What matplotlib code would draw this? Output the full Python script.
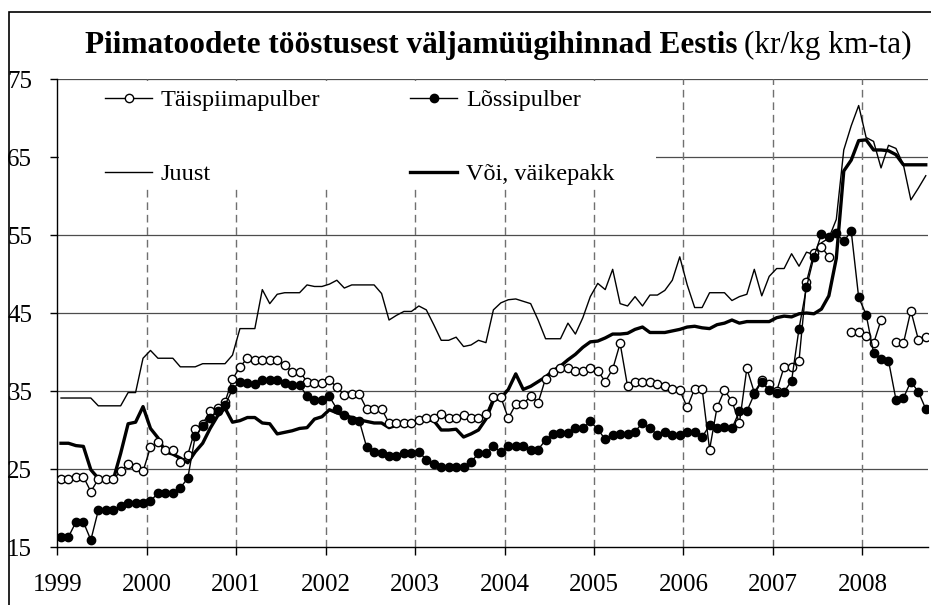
import numpy as np
import matplotlib
matplotlib.use("Agg")
import matplotlib.pyplot as plt
from matplotlib.patches import Rectangle

plt.rcParams['font.family'] = ['Liberation Serif', 'DejaVu Serif']

# monthly prices, Jan 1999 .. Sep 2008 (kr/kg)
years = [str(y) for y in range(1999, 2009)]

taispiim = [
    23.7, 23.7, 24.0, 24.0, 22.1, 23.7, 23.7, 23.7, 24.7, 25.6, 25.3, 24.7,
    27.8, 28.4, 27.4, 27.4, 25.9, 26.8, 30.1, 30.8, 32.4, 32.8, 33.6, 36.5,
    38.1, 39.2, 39.0, 39.0, 39.0, 39.0, 38.3, 37.5, 37.5, 36.2, 36.0, 36.0,
    36.4, 35.5, 34.5, 34.6, 34.6, 32.7, 32.7, 32.7, 30.9, 30.9, 30.9, 30.9,
    31.3, 31.6, 31.5, 32.1, 31.5, 31.5, 31.9, 31.5, 31.5, 32.0, 34.2, 34.2,
    31.5, 33.3, 33.3, 34.4, 33.5, 36.6, 37.4, 37.9, 37.9, 37.6, 37.6, 37.9,
    37.6, 36.2, 37.8, 41.1, 35.6, 36.1, 36.1, 36.1, 35.9, 35.6, 35.3, 35.1,
    32.9, 35.3, 35.3, 27.5, 32.9, 35.1, 33.7, 30.9, 37.9, 34.8, 36.4, 35.9,
    35.0, 38.1, 38.1, 38.9, 49.0, 52.7, 53.5, 52.2, np.nan, np.nan, 42.6, 42.6,
    42.1, 41.1, 44.1, np.nan, 41.3, 41.1, 45.3, 41.6, 41.9,
]

lossi = [
    16.3, 16.3, 18.2, 18.2, 15.9, 19.7, 19.7, 19.7, 20.3, 20.7, 20.7, 20.7,
    20.9, 21.9, 21.9, 21.9, 22.6, 23.8, 29.2, 30.5, 31.5, 32.4, 33.2, 35.2,
    36.2, 36.0, 35.9, 36.4, 36.4, 36.4, 36.0, 35.8, 35.8, 34.3, 33.8, 33.8,
    34.3, 32.7, 31.9, 31.3, 31.2, 27.8, 27.2, 27.1, 26.7, 26.7, 27.0, 27.1,
    27.2, 26.2, 25.7, 25.2, 25.2, 25.2, 25.3, 25.9, 27.0, 27.0, 27.9, 27.2,
    27.9, 27.9, 27.9, 27.5, 27.5, 28.7, 29.5, 29.6, 29.6, 30.2, 30.2, 31.1,
    30.1, 28.8, 29.3, 29.5, 29.5, 29.8, 30.9, 30.2, 29.4, 29.7, 29.4, 29.4,
    29.7, 29.7, 29.1, 30.6, 30.3, 30.4, 30.2, 32.4, 32.4, 34.6, 36.2, 35.1,
    34.8, 34.9, 36.3, 43.0, 48.3, 52.2, 55.1, 54.7, 55.2, 54.2, 55.5, 47.0,
    44.8, 39.9, 39.1, 38.9, 33.9, 34.1, 36.2, 34.9, 32.7,
]

juust = [
    34.1, 34.1, 34.1, 34.1, 34.1, 33.1, 33.1, 33.1, 33.1, 34.8, 34.8, 39.2,
    40.2, 39.2, 39.2, 39.2, 38.1, 38.1, 38.1, 38.5, 38.5, 38.5, 38.5, 39.6,
    43.0, 43.0, 43.0, 48.0, 46.2, 47.4, 47.6, 47.6, 47.6, 48.6, 48.4, 48.4,
    48.7, 49.2, 48.2, 48.6, 48.6, 48.6, 48.6, 47.5, 44.1, 44.7, 45.2, 45.2,
    45.9, 45.4, 43.5, 41.5, 41.5, 41.9, 40.7, 40.9, 41.5, 41.2, 45.4, 46.3,
    46.7, 46.8, 46.5, 46.2, 44.1, 41.7, 41.7, 41.7, 43.7, 42.3, 44.4, 47.1,
    48.8, 48.0, 50.6, 46.2, 45.9, 47.1, 45.9, 47.3, 47.3, 47.9, 49.2, 52.2,
    48.6, 45.7, 45.7, 47.6, 47.6, 47.6, 46.6, 47.1, 47.4, 50.6, 47.2, 49.7,
    50.7, 50.7, 52.6, 51.0, 52.8, 52.5, 54.0, 54.6, 57.0, 65.9, 69.0, 71.6,
    67.5, 67.0, 63.6, 66.5, 66.1, 64.0, 59.5, 61.0, 62.6,
]

voi = [
    28.3, 28.3, 28.0, 27.9, 24.9, 23.8, 23.7, 23.6, 27.0, 30.8, 31.0, 33.0,
    30.2, 29.0, 27.2, 26.9, 26.4, 25.8, 27.2, 28.3, 30.2, 31.8, 32.8, 31.0,
    31.2, 31.6, 31.6, 30.9, 30.8, 29.5, 29.7, 29.9, 30.2, 30.3, 31.4, 31.7,
    32.6, 32.2, 31.9, 31.6, 31.3, 31.1, 30.9, 30.9, 30.3, 30.6, 30.8, 30.9,
    31.1, 31.3, 31.2, 30.0, 30.0, 30.1, 29.1, 29.5, 30.0, 31.4, 33.8, 34.1,
    35.2, 37.2, 35.2, 35.6, 36.2, 36.8, 37.6, 38.2, 39.0, 39.7, 40.6, 41.3,
    41.4, 41.8, 42.3, 42.3, 42.4, 42.9, 43.2, 42.5, 42.5, 42.5, 42.7, 42.9,
    43.2, 43.3, 43.1, 43.0, 43.5, 43.7, 44.1, 43.7, 43.9, 43.9, 43.9, 43.9,
    44.4, 44.6, 44.5, 44.9, 45.0, 44.9, 45.5, 47.2, 52.0, 63.2, 64.6, 67.1,
    67.2, 65.9, 65.9, 65.8, 65.3, 64.0, 64.0, 64.0, 64.0,
]

labels = ['Täispiimapulber', 'Lõssipulber', 'Juust', 'Või, väikepakk']

x = np.arange(len(juust)) + 0.5   # points sit in the middle of each month

W, H = 931, 605
fig = plt.figure(figsize=(W / 100, H / 100), dpi=100)
ax = fig.add_axes([57.3 / W, 1 - 547 / H, (928 - 57.3) / W, (547 - 79) / H])
ax.set_xlim(0, 116.8)
ax.set_ylim(15, 75)

# grid
for v in range(25, 80, 10):
    ax.axhline(v, color='#4d4d4d', lw=0.9, zorder=1)
for m in range(12, 12 * len(years), 12):
    ax.axvline(m, color='#707070', lw=1.0, ls=(0, (5.5, 3.5)), zorder=1)

# white box behind the legend hides the grid there
ax.add_patch(Rectangle((0.002, 0.769), 0.686, 0.226, transform=ax.transAxes,
                       fc='white', ec='none', zorder=1.5))

h_voi, = ax.plot(x, voi, color='black', lw=2.4, zorder=3)
h_juust, = ax.plot(x, juust, color='black', lw=1.0, zorder=3)
h_tais, = ax.plot(x, taispiim, color='black', lw=1.0, marker='o', ms=6,
                  mfc='white', mec='black', mew=1.0, zorder=4)
h_lossi, = ax.plot(x, lossi, color='black', lw=1.0, marker='o', ms=6,
                   mfc='black', mec='black', mew=1.0, zorder=5)

# axes
ax.spines['top'].set_visible(False)
ax.spines['right'].set_visible(False)
ax.spines['left'].set_linewidth(1.0)
ax.spines['bottom'].set_linewidth(1.0)
ax.set_yticks(range(15, 80, 10))
ax.set_xticks(range(0, 12 * len(years), 12))
ax.set_xticklabels(years)
ax.tick_params(axis='y', direction='out', length=5, width=1, pad=13, labelsize=18)
ax.tick_params(axis='x', direction='out', length=5.5, width=1, pad=14, labelsize=18)

# legend in two columns
kw = dict(frameon=False, fontsize=17.5, handlelength=1.95, handletextpad=0.35,
          borderpad=0, borderaxespad=0, labelspacing=2.15, loc='upper left',
          bbox_transform=fig.transFigure)
leg1 = ax.legend([h_tais, h_juust], [labels[0], labels[2]],
                 bbox_to_anchor=(105 / W, 1 - 89 / H), **kw)
ax.add_artist(leg1)
ax.legend([h_lossi, h_voi], [labels[1], labels[3]],
          bbox_to_anchor=(410 / W, 1 - 89 / H), **kw)

# title: bold part + normal part
r = fig.canvas.get_renderer()
t1 = fig.text(85 / W, 1 - 53 / H, 'Piimatoodete tööstusest väljamüügihinnad Eestis',
              fontsize=22.5, fontweight='bold', ha='left', va='baseline')
bb = t1.get_window_extent(renderer=r)
fig.text((bb.x1 + 7) / W, 1 - 53 / H, '(kr/kg km-ta)', fontsize=22.5,
         ha='left', va='baseline')

# chart area border (left and top edges visible)
fig.add_artist(Rectangle((9 / W, -0.05), 1.1, 1.05 - 12 / H, transform=fig.transFigure,
                         fc='none', ec='black', lw=1.2))

fig.savefig('out.png', dpi=100)
